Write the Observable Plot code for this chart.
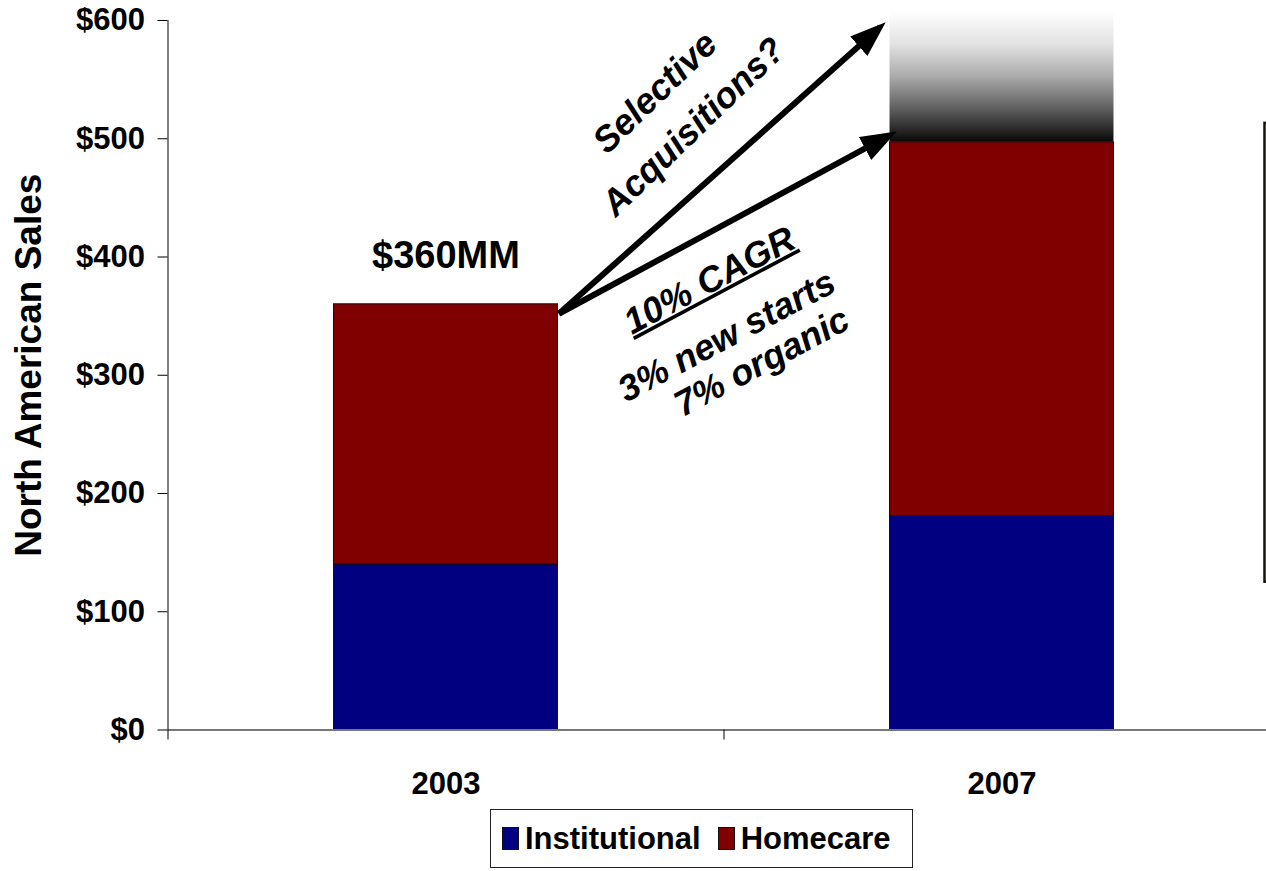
<!DOCTYPE html>
<html><head><meta charset="utf-8">
<script src="https://cdn.jsdelivr.net/npm/d3@7"></script>
<script src="https://cdn.jsdelivr.net/npm/@observablehq/plot@0.6"></script>
<style>
html,body{margin:0;padding:0;background:#fff;overflow:hidden;}
#chart svg{display:block;}
#legend{margin:9px 0 0 490px;width:423px;height:59px;box-sizing:border-box;border:1px solid #222;
  display:flex;align-items:center;padding-left:11px;font:bold 31px "Liberation Sans",Arial,sans-serif;color:#000;}
#legend .sw{width:15px;height:21px;border:1px solid #111;display:inline-block;}
#legend .lb{margin-left:6px;margin-right:17px;}
</style></head>
<body><div id="chart"></div><div id="legend"></div>
<script>
// ---- data ----
const years = ["2003", "2007"];
const series = ["Institutional", "Homecare"];
const institutional = [140, 181];
const homecare = [220, 316];
const colors = ["#000080", "#800000"];
const yTicks = [0, 100, 200, 300, 400, 500, 600];
const yTitle = "North American Sales";
// faded "upside" band above the 2007 bar (value range)
const upside = [{i: 1, lo: 497, hi: 608}];
// growth arrows (x in year-index units, y in $MM)
const arrows = [
  {x1: 0.203, y1: 352, x2: 0.780, y2: 594},
  {x1: 0.203, y1: 352, x2: 0.798, y2: 503}
];
const upperNotes = [
  {text: "Selective", x: 0.376, y: 539},
  {text: "Acquisitions?", x: 0.445, y: 510}
];
const lowerNotes = [
  {text: "10% CAGR", x: 0.474, y: 380},
  {text: "3% new starts", x: 0.505, y: 333},
  {text: "7% organic", x: 0.568, y: 311}
];
// edge of a side box that is cut off on the right
const sideBox = [{x1: 1.473, x2: 1.70, y1: 125, y2: 513}];

// ---- build ----
const rows = years.flatMap((yr, i) => [
  {i, year: yr, series: series[0], value: institutional[i]},
  {i, year: yr, series: series[1], value: homecare[i]}
]);
const half = 0.2014;
const font = "Liberation Sans, Arial, sans-serif";

const plot = Plot.plot({
  width: 1266, height: 800,
  marginTop: 20, marginBottom: 70.5, marginLeft: 167.5, marginRight: 0,
  style: {fontFamily: font, fontWeight: "bold", background: "white", color: "#000"},
  x: {domain: [-0.5, 1.5], range: [167.5, 1279.5], axis: null, label: null},
  y: {domain: [0, 600], axis: null, label: null},
  color: {domain: series, range: colors},
  marks: [
    Plot.rect(upside, {x1: d => d.i - half, x2: d => d.i + half, y1: "lo", y2: "hi", fill: "url(#upsideFade)"}),
    Plot.rectY(rows, Plot.stackY({x: "i", x1: d => d.i - half, x2: d => d.i + half, y: "value", fill: "series", stroke: "#111", strokeWidth: 1})),
    Plot.ruleY([0], {x1: -0.5, x2: 1.5, stroke: "#777", strokeWidth: 2}),
    Plot.ruleX([-0.5], {y1: 0, y2: 600, stroke: "#000", strokeWidth: 1}),
    Plot.axisY({ticks: yTicks, tickFormat: d => "$" + d, tickSize: 10, tickPadding: 13, fontSize: 31, fontWeight: "bold", label: null}),
    Plot.axisX({ticks: [-0.5, 0.5], tickFormat: () => "", tickSize: 10, label: null}),
    Plot.axisX({ticks: [0, 1], tickFormat: i => years[i], tickSize: 0, tickPadding: 42, fontSize: 31, fontWeight: "bold", label: null}),
    Plot.text([{i: 0, total: institutional[0] + homecare[0]}], {x: "i", y: "total", text: d => "$" + d.total + "MM", dy: -48, fontSize: 38, fontWeight: "bold", letterSpacing: 2}),
    Plot.link(arrows, {x1: "x1", y1: "y1", x2: "x2", y2: "y2", stroke: "#000", strokeWidth: 6}),
    Plot.text(upperNotes, {x: "x", y: "y", text: "text", rotate: -44, fontSize: 36, fontWeight: "bold", fontStyle: "italic"}),
    Plot.text(lowerNotes, {x: "x", y: "y", text: "text", rotate: -28, fontSize: 36, fontWeight: "bold", fontStyle: "italic"}),
    Plot.text([yTitle], {frameAnchor: "left", textAnchor: "middle", lineAnchor: "middle", dx: -139, dy: -10, rotate: -90, fontSize: 37, fontWeight: "bold"}),
    Plot.rect(sideBox, {x1: "x1", x2: "x2", y1: "y1", y2: "y2", fill: "none", stroke: "#15150a", strokeWidth: 2.5})
  ]
});

// gradient + arrowhead definitions
const ns = "http://www.w3.org/2000/svg";
const defs = document.createElementNS(ns, "defs");
defs.innerHTML = `
  <linearGradient id="upsideFade" x1="0" y1="0" x2="0" y2="1">
    <stop offset="0" stop-color="#ffffff"/>
    <stop offset="0.25" stop-color="#e3e3e3"/>
    <stop offset="0.5" stop-color="#ababab"/>
    <stop offset="0.75" stop-color="#5e5e5e"/>
    <stop offset="1" stop-color="#080808"/>
  </linearGradient>
  <marker id="head" markerUnits="userSpaceOnUse" viewBox="0 0 36 26" markerWidth="36" markerHeight="26" refX="28" refY="13" orient="auto">
    <path d="M0,0L36,13L0,26z" fill="#000"/>
  </marker>`;
plot.insertBefore(defs, plot.firstChild);
plot.querySelectorAll('g[aria-label="link"] path, g[aria-label="link"] line').forEach(p => {
  p.setAttribute("marker-end", "url(#head)");
  p.setAttribute("stroke-linecap", "butt");
});
plot.querySelectorAll("text").forEach(t => {
  if (t.textContent === lowerNotes[0].text) t.setAttribute("text-decoration", "underline");
});
document.getElementById("chart").appendChild(plot);

// legend
const lg = document.getElementById("legend");
series.forEach((s, k) => {
  const sw = document.createElement("span"); sw.className = "sw"; sw.style.background = colors[k];
  const lb = document.createElement("span"); lb.className = "lb"; lb.textContent = s;
  if (k === series.length - 1) lb.style.marginRight = "0";
  lg.appendChild(sw); lg.appendChild(lb);
});
</script>
</body></html>
